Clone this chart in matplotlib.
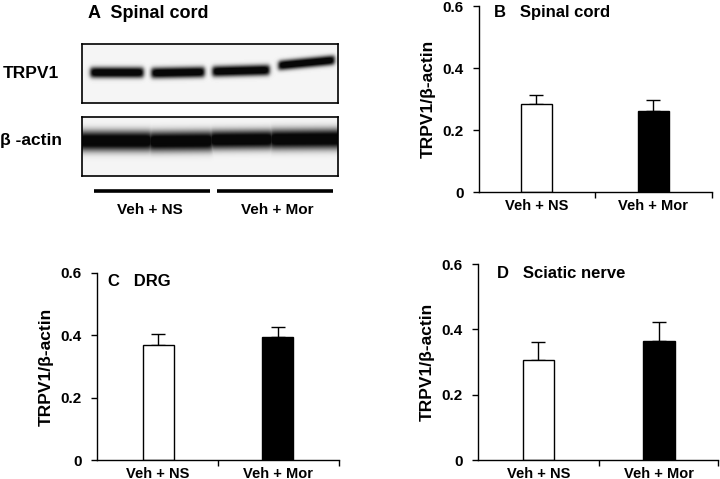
import numpy as np
import matplotlib
matplotlib.use("Agg")
import matplotlib.pyplot as plt
from matplotlib.lines import Line2D

W, H = 720, 479
plt.rcParams['font.family'] = ['Liberation Sans', 'DejaVu Sans']
plt.rcParams['font.weight'] = 'bold'

# ---- data ----
groups = ["Veh + NS", "Veh + Mor"]
bar_colors = ["white", "black"]
spinal_mean = [0.283, 0.262]
spinal_err = [0.029, 0.034]
drg_mean = [0.370, 0.395]
drg_err = [0.033, 0.032]
sciatic_mean = [0.307, 0.365]
sciatic_err = [0.054, 0.056]
yticks = [0, 0.2, 0.4, 0.6]
ytick_labels = ["0", "0.2", "0.4", "0.6"]
ylabel = "TRPV1/β-actin"

fig = plt.figure(figsize=(W / 100, H / 100), dpi=100)


def rect(x0, y0, x1, y1):
    return [x0 / W, 1 - y1 / H, (x1 - x0) / W, (y1 - y0) / H]


def fx(x):
    return x / W


def fy(y):
    return 1 - y / H


def bar_panel(r, means, errs, title, xlim, title_xy):
    ax = fig.add_axes(rect(*r))
    x = np.arange(len(groups))
    ax.bar(x, means, width=0.26, color=bar_colors, edgecolor="black", linewidth=1.0,
           zorder=2)
    for xi, m, e in zip(x, means, errs):
        ax.errorbar([xi], [m], yerr=[[0], [e]], fmt="none", ecolor="black",
                    elinewidth=1.0, capsize=5, capthick=1.0, zorder=1)
    ax.set_ylim(0, 0.6)
    ax.set_xlim(*xlim)
    ax.set_yticks(yticks)
    ax.set_yticklabels(ytick_labels, fontsize=11, fontweight="bold")
    ax.set_xticks(x)
    ax.set_xticklabels(groups, fontsize=10.5, fontweight="bold")
    ax.tick_params(axis="x", which="major", length=0, pad=5)
    ax.set_xticks([0.5, xlim[1]], minor=True)
    ax.tick_params(axis="x", which="minor", length=4, width=1, direction="out")
    ax.tick_params(axis="y", length=4, width=1, direction="out", pad=7)
    for s in ["top", "right"]:
        ax.spines[s].set_visible(False)
    for s in ["left", "bottom"]:
        ax.spines[s].set_linewidth(1.0)
    ax.set_ylabel(ylabel, fontsize=12.5, fontweight="bold", labelpad=5)
    fig.text(fx(title_xy[0]), fy(title_xy[1]), title, fontsize=12,
             fontweight="bold", va="center", ha="left")
    return ax


bar_panel((479, 6, 712, 192), spinal_mean, spinal_err, "B   Spinal cord",
          (-0.49, 1.5), (494, 13))
bar_panel((97, 273, 339, 460), drg_mean, drg_err, "C   DRG",
          (-0.51, 1.51), (108, 282))
bar_panel((478, 264, 718, 460), sciatic_mean, sciatic_err, "D   Sciatic nerve",
          (-0.5, 1.49), (497, 274))

# ---- panel A: western blot illustration ----
def smooth_step(t, w):
    return 0.5 * (1 + np.tanh(t / w))


def blot_image(h, w, bands, bg=0.96):
    yy, xx = np.mgrid[0:h, 0:w].astype(float)
    dark = np.zeros((h, w))
    for (x0, x1, yc0, yc1, th) in bands:
        hm = smooth_step(xx - x0, 2.5) * smooth_step(x1 - xx, 2.5)
        yc = yc0 + (yc1 - yc0) * np.clip((xx - x0) / max(x1 - x0, 1), 0, 1)
        vm = np.exp(-np.abs((yy - yc) / (th / 2)) ** 2.5)
        dark = np.maximum(dark, hm * vm)
    dark = np.clip(dark * 1.15, 0, 1)
    return bg * (1 - 0.97 * dark)


# TRPV1 box
trpv_bands = [(8, 61, 28, 28, 11), (69, 122, 28.5, 27.5, 11),
              (130, 187, 27, 25.5, 11), (196, 252, 21, 15.5, 10)]
img1 = blot_image(59, 256, trpv_bands)
axA1 = fig.add_axes(rect(82, 44, 338, 103))
axA1.imshow(img1, cmap="gray", vmin=0, vmax=1, aspect="auto",
            interpolation="bilinear")
axA1.set_xticks([])
axA1.set_yticks([])
for s in axA1.spines.values():
    s.set_linewidth(1.2)

actin_bands = [(-4, 70, 24, 24, 20), (66, 131, 24.5, 24, 20),
               (127, 191, 23, 22.5, 19), (187, 262, 22.5, 22, 20)]
img2 = blot_image(59, 256, actin_bands)
axA2 = fig.add_axes(rect(82, 117, 338, 176))
axA2.imshow(img2, cmap="gray", vmin=0, vmax=1, aspect="auto",
            interpolation="bilinear")
axA2.set_xticks([])
axA2.set_yticks([])
for s in axA2.spines.values():
    s.set_linewidth(1.2)

fig.text(fx(88), fy(13), "A  Spinal cord", fontsize=13, fontweight="bold",
         va="center", ha="left")
fig.text(fx(3), fy(73), "TRPV1", fontsize=12.5, fontweight="bold", va="center",
         ha="left")
fig.text(fx(0), fy(140), "β -actin", fontsize=12.5, fontweight="bold",
         va="center", ha="left")
fig.add_artist(Line2D([fx(94), fx(210)], [fy(191), fy(191)], color="black",
                      linewidth=2.6, solid_capstyle="butt"))
fig.add_artist(Line2D([fx(217), fx(333)], [fy(191), fy(191)], color="black",
                      linewidth=2.6, solid_capstyle="butt"))
fig.text(fx(150), fy(210), groups[0], fontsize=11, fontweight="bold",
         va="center", ha="center")
fig.text(fx(277), fy(210), groups[1], fontsize=11, fontweight="bold",
         va="center", ha="center")

fig.savefig("out.png", dpi=100)
